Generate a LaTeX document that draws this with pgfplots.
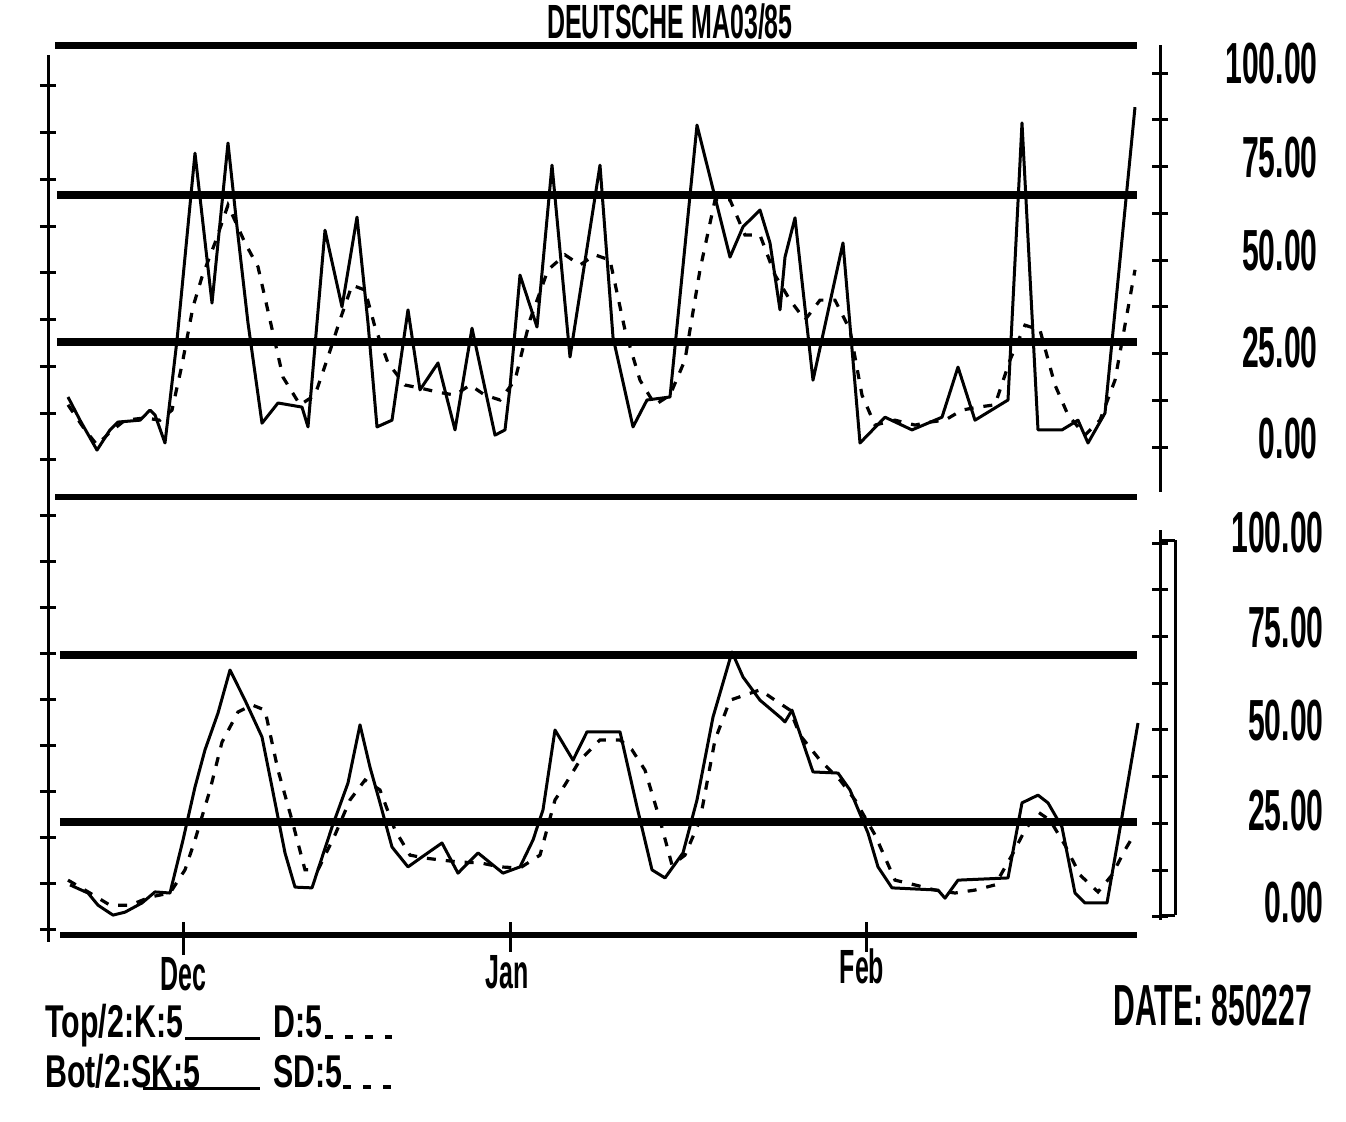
\documentclass[border=0pt]{standalone}
\usepackage{pgfplots}
\pgfplotsset{compat=1.18}
\usepackage{fontspec}
\newfontfamily\cond[FakeStretch=0.52]{Liberation Sans Bold}
\newfontfamily\condw[FakeStretch=0.66]{Liberation Sans Bold}
\begin{document}
\begin{tikzpicture}
\path[use as bounding box] (0pt,0pt) rectangle (673pt,-560.5pt);
\pgfplotsset{panel/.style={scale only axis, width=556pt, xmin=48, xmax=1160, clip=false,
  axis x line=none, y axis line style={draw=none}, tick align=center, major tick length=8pt,
  tick style={line width=1.5pt, black}, yticklabels={}},
  kline/.style={black, line width=1.5pt, line join=round},
  dline/.style={black, line width=1.6pt, dash pattern=on 4.5pt off 5pt},
  refline/.style={black, line width=4pt}}
% ---------- top panel ----------
\begin{axis}[panel, at={(24pt,-248.5pt)}, anchor=south west, height=226pt,
  ymin=-15.24, ymax=105.61, axis y line*=left,
  ytick={-5.3,7.2,19.7,32.2,44.7,57.2,69.7,82.2,94.7}]
\addplot[refline] coordinates {(57,65.5) (1137,65.5)};
\addplot[refline] coordinates {(57,26.2) (1137,26.2)};
\addplot[kline] coordinates {(68,11.5)(80,5.3)(97,-2.7)(110,2.7)(118,4.8)(140,5.3)(150,8.0)(155,6.7)(165,-0.8)(177,26.7)(195,76.7)(212,36.6)(228,79.4)(237,57.0)(248,31.3)(262,4.5)(278,9.9)(302,8.8)(308,3.5)(325,56.1)(342,35.6)(357,59.6)(368,31.3)(377,3.5)(392,5.3)(408,34.8)(420,13.4)(438,20.6)(455,2.7)(472,29.9)(495,1.3)(505,2.7)(510,14.2)(520,44.1)(537,30.2)(552,73.5)(570,22.2)(600,73.5)(613,27.5)(633,3.5)(647,10.7)(670,11.5)(697,84.2)(710,70.3)(730,48.9)(743,57.0)(760,61.5)(770,52.7)(780,34.8)(785,48.9)(795,59.4)(813,16.0)(843,52.7)(860,-0.8)(885,6.1)(912,2.7)(942,6.1)(958,19.5)(975,5.3)(1008,10.7)(1022,84.8)(1038,2.7)(1062,2.7)(1078,5.3)(1088,-0.8)(1105,7.2)(1135,89.0)};
\addplot[dline] coordinates {(68,9.4)(85,2.7)(97,-1.3)(110,2.1)(125,5.3)(145,5.9)(160,5.3)(172,8.0)(182,20.1)(193,35.6)(202,43.6)(215,52.7)(228,62.8)(245,52.7)(258,46.3)(270,32.1)(283,16.8)(300,9.4)(315,12.0)(328,22.2)(340,32.1)(352,41.4)(365,40.1)(375,30.2)(388,20.6)(405,14.7)(420,13.9)(438,12.8)(455,12.0)(470,14.7)(485,12.0)(500,10.7)(515,16.0)(530,32.1)(548,45.5)(565,49.5)(580,46.8)(595,49.5)(610,48.1)(625,29.4)(640,16.0)(655,9.4)(670,12.0)(685,21.4)(700,45.5)(715,64.2)(730,64.2)(745,54.8)(760,54.8)(775,44.1)(790,37.4)(805,32.1)(820,37.4)(835,37.4)(850,29.4)(862,12.0)(875,4.0)(895,5.3)(915,4.0)(930,4.8)(945,5.3)(962,8.0)(978,8.8)(995,9.4)(1010,21.4)(1025,30.7)(1040,29.4)(1055,14.7)(1068,6.7)(1085,1.3)(1100,5.3)(1115,16.0)(1135,45.5)};
\end{axis}
\begin{axis}[panel, at={(24pt,-248.5pt)}, anchor=south west, height=226pt,
  ymin=-15.24, ymax=105.61, axis y line*=right,
  ytick={-1.9,10.6,23.1,35.6,48.1,60.6,73.1,85.6,98.1}]
\end{axis}
% ---------- bottom panel ----------
\begin{axis}[panel, at={(24pt,-467.5pt)}, anchor=south west, height=219pt,
  ymin=-9.51, ymax=109.51, axis y line*=left,
  ytick={-8,4.5,17,29.5,42,54.5,67,79.5,92,104.5}]
\addplot[refline] coordinates {(60,66.6) (1137,66.6)};
\addplot[refline] coordinates {(60,21.2) (1137,21.2)};
\addplot[kline] coordinates {(70,4.1)(88,1.9)(98,-1.4)(113,-4.1)(125,-3.3)(142,-0.8)(155,2.2)(170,1.9)(183,16.3)(195,30.7)(205,40.8)(218,50.8)(230,62.5)(245,54.3)(262,44.3)(272,30.7)(285,12.8)(295,3.5)(312,3.3)(332,19.8)(348,31.8)(360,47.6)(370,36.1)(380,26.4)(392,14.4)(408,9.0)(422,11.7)(442,15.5)(458,7.3)(478,12.8)(503,7.3)(520,9.0)(533,16.3)(543,24.5)(555,46.2)(573,38.0)(587,45.7)(620,45.7)(637,25.3)(652,8.2)(665,6.0)(683,12.8)(697,27.2)(713,49.7)(732,67.4)(743,60.6)(760,54.3)(780,49.7)(785,48.4)(792,51.6)(813,34.8)(838,34.5)(850,29.9)(868,18.2)(878,9.0)(892,3.3)(938,2.7)(945,0.5)(958,5.4)(1008,6.0)(1022,26.4)(1038,28.5)(1048,26.4)(1062,19.8)(1075,1.9)(1085,-0.8)(1107,-0.8)(1118,16.3)(1138,48.1)};
\addplot[dline] coordinates {(68,5.4)(90,1.9)(110,-1.4)(130,-1.4)(150,0.8)(170,1.9)(185,8.2)(195,16.3)(210,29.9)(222,42.9)(238,51.1)(252,53.0)(265,51.6)(278,35.3)(292,21.7)(305,8.2)(318,8.2)(335,17.7)(350,27.2)(365,32.6)(380,29.9)(395,19.0)(410,12.2)(425,11.4)(440,10.9)(460,10.3)(480,10.1)(500,9.0)(520,8.7)(540,12.2)(555,27.2)(565,31.3)(580,38.0)(600,43.5)(620,43.5)(632,40.8)(645,35.3)(660,21.7)(672,9.5)(685,12.2)(700,21.7)(715,43.5)(730,54.3)(745,55.7)(760,57.1)(775,54.3)(790,51.6)(800,44.8)(820,38.0)(840,32.6)(855,27.2)(875,17.7)(895,5.4)(915,4.1)(935,2.7)(955,1.9)(975,2.7)(995,4.1)(1012,12.2)(1025,19.0)(1038,23.9)(1050,21.7)(1065,14.9)(1080,6.8)(1098,2.2)(1112,6.8)(1125,13.6)(1135,18.2)};
\end{axis}
\begin{axis}[panel, at={(24pt,-467.5pt)}, anchor=south west, height=219pt,
  ymin=-9.51, ymax=109.51, axis y line*=right,
  ytick={-4.6,8.1,20.8,33.5,46.2,58.9,71.6,84.3,97.0}]
\end{axis}
% ---------- frame and text ----------
\begin{scope}[x=0.5pt,y=-0.5pt]
\draw[line width=3.5pt] (55,45)--(1137,45);
\draw[line width=3pt] (55,497)--(1137,497);
\draw[line width=3pt] (60,935)--(1137,935);
\draw[line width=1.5pt] (48,55)--(48,942);
\draw[line width=1.5pt] (1160,45)--(1160,492);
\draw[line width=1.5pt] (1160,530)--(1160,920);
\draw[line width=1.5pt] (1175,540)--(1175,915);
\draw[line width=1.5pt] (1160,540)--(1175,540) (1160,915)--(1175,915);
\draw[line width=1.5pt] (183,922)--(183,955) (510,922)--(510,952) (866,922)--(866,952);
\node[anchor=base, inner sep=0] at (670,38) {\cond\fontsize{24}{24}\selectfont DEUTSCHE MA03/85};
\foreach \v/\b in {100.00/83, 75.00/177, 50.00/270, 25.00/367, 0.00/458}
  \node[anchor=base east, inner sep=0] at (1318,\b) {\cond\fontsize{29}{29}\selectfont \v};
\foreach \v/\b in {100.00/552, 75.00/647, 50.00/740, 25.00/830, 0.00/922}
  \node[anchor=base east, inner sep=0] at (1324,\b) {\cond\fontsize{29}{29}\selectfont \v};
\node[anchor=base, inner sep=0] at (183,990) {\cond\fontsize{24}{24}\selectfont Dec};
\node[anchor=base, inner sep=0] at (507,988) {\cond\fontsize{24}{24}\selectfont Jan};
\node[anchor=base, inner sep=0] at (862,983) {\cond\fontsize{24}{24}\selectfont Feb};
\node[anchor=base west, inner sep=0] at (1113,1025) {\cond\fontsize{29}{29}\selectfont DATE: 850227};
\node[anchor=base west, inner sep=0] at (45,1037) {\condw\fontsize{23}{23}\selectfont Top/2:K:5};
\node[anchor=base west, inner sep=0] at (273,1037) {\condw\fontsize{23}{23}\selectfont D:5};
\node[anchor=base west, inner sep=0] at (45,1087) {\condw\fontsize{23}{23}\selectfont Bot/2:SK:5};
\node[anchor=base west, inner sep=0] at (273,1087) {\condw\fontsize{23}{23}\selectfont SD:5};
\draw[line width=1.5pt] (185,1038)--(260,1038);
\draw[line width=1.5pt] (143,1088)--(260,1088);
\draw[line width=2pt, dash pattern=on 4pt off 6pt] (325,1037)--(392,1037);
\draw[line width=2pt, dash pattern=on 4pt off 6pt] (343,1087)--(392,1087);
\end{scope}
\end{tikzpicture}
\end{document}
